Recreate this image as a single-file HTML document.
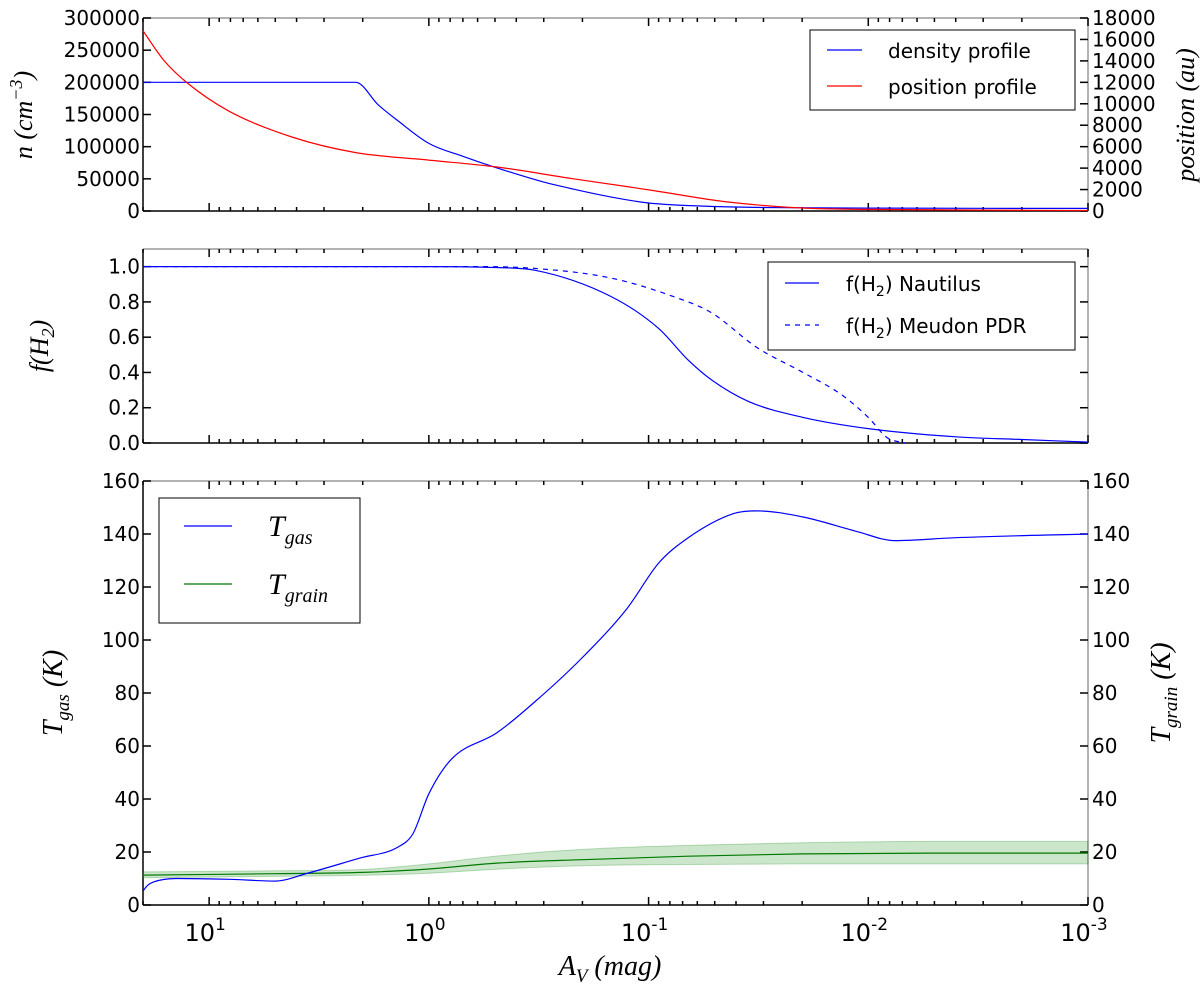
<!DOCTYPE html>
<html><head><meta charset="utf-8"><style>
body{margin:0;background:#fff}
svg{display:block}
text{font-family:"DejaVu Sans","Liberation Sans",sans-serif;fill:#000}
.it{font-family:"Liberation Serif","DejaVu Serif",serif;font-style:italic}
</style></head><body>
<svg id="chart" width="1200" height="990" xmlns="http://www.w3.org/2000/svg"></svg>
<script>
// ---- data ----
const densAv = [20, 2.15, 1.7, 1.38, 1.0, 0.7, 0.49, 0.3, 0.22, 0.15, 0.1, 0.05, 0.03, 0.01, 0.001];
const densVal = [200000, 200000, 165000, 140000, 105000, 85000, 67000, 45000, 34000, 22000, 12500, 7000, 5500, 4500, 4000];
const posAv = [20, 16, 12.5, 8.1, 4.2, 2.15, 1.0, 0.49, 0.22, 0.098, 0.044, 0.02, 0.01, 0.003, 0.001];
const posVal = [16800, 14000, 11900, 9300, 6900, 5450, 4750, 4100, 3000, 1950, 850, 280, 150, 80, 50];
const h2Av = [20, 1, 0.5, 0.33, 0.148, 0.09, 0.066, 0.052, 0.035, 0.0198, 0.0098, 0.004, 0.002, 0.001];
const h2Naut = [1.0, 1.0, 0.995, 0.98, 0.83, 0.65, 0.47, 0.36, 0.235, 0.145, 0.08, 0.035, 0.02, 0.005];
const h2MAv = [20, 0.6, 0.33, 0.148, 0.077, 0.052, 0.032, 0.0198, 0.0131, 0.01, 0.0082, 0.0068];
const h2Meud = [1.0, 1.0, 0.99, 0.935, 0.83, 0.74, 0.54, 0.4, 0.27, 0.145, 0.03, 0.0];
const tgasAv = [20, 19, 17.9, 14.1, 8.1, 5.0, 3.6, 2.06, 1.38, 1.18, 1.0, 0.79, 0.49, 0.33, 0.2, 0.125, 0.09, 0.066, 0.041, 0.032, 0.0198, 0.0113, 0.0076, 0.004, 0.001];
const tgasVal = [5.3, 7.5, 8.7, 10, 9.7, 9.0, 11.9, 17.7, 21.9, 27, 42, 55, 65, 76.6, 93.4, 112, 129, 138.6, 147.7, 148.7, 146.4, 141, 137.5, 138.6, 140];
const tgrAv = [20, 5, 2, 1, 0.49, 0.2, 0.066, 0.02, 0.005, 0.001];
const tgrVal = [11.3, 11.8, 12.3, 13.6, 15.8, 17.1, 18.4, 19.3, 19.6, 19.6];
const tgrLo = [10.3, 10.8, 11.2, 12, 13.5, 14.8, 15.3, 15.5, 15.5, 15.5];
const tgrHi = [12.5, 12.9, 13.4, 15.5, 18.5, 21, 22.5, 23.5, 24, 24];
const nTicks = [0, 50000, 100000, 150000, 200000, 250000, 300000];
const posTicks = [0, 2000, 4000, 6000, 8000, 10000, 12000, 14000, 16000, 18000];
const fTicks = [0.0, 0.2, 0.4, 0.6, 0.8, 1.0];
const tTicks = [0, 20, 40, 60, 80, 100, 120, 140, 160];
const xDecades = [1, 0, -1, -2, -3];

const svg = document.getElementById('chart');
const NS = 'http://www.w3.org/2000/svg';
function mk(tag, attrs, parent){const e=document.createElementNS(NS,tag);for(const k in attrs)e.setAttribute(k,attrs[k]);(parent||svg).appendChild(e);return e;}
const X0 = 143, X1 = 1088;
function xs(v){return X1 - (Math.log10(v) + 3) / (Math.log10(20) + 3) * (X1 - X0);}
function ys(top, bot, max){return v => bot - v / max * (bot - top);}
// monotone cubic path through points (x increasing)
function monoPath(px, py, start){
  const n = px.length, d = [], m = [];
  for (let i=0;i<n-1;i++) d.push((py[i+1]-py[i])/(px[i+1]-px[i]));
  m[0]=d[0]; m[n-1]=d[n-2];
  for (let i=1;i<n-1;i++) m[i] = (d[i-1]*d[i]<=0)?0:(d[i-1]+d[i])/2;
  for (let i=0;i<n-1;i++){
    if (d[i]===0){m[i]=0;m[i+1]=0;continue;}
    const a=m[i]/d[i], b=m[i+1]/d[i], s=a*a+b*b;
    if (s>9){const t=3/Math.sqrt(s);m[i]=t*a*d[i];m[i+1]=t*b*d[i];}
  }
  let s = (start||'M')+px[0].toFixed(1)+','+py[0].toFixed(1);
  for (let i=0;i<n-1;i++){
    const h=(px[i+1]-px[i])/3;
    s+=' C'+(px[i]+h).toFixed(1)+','+(py[i]+m[i]*h).toFixed(1)+' '+(px[i+1]-h).toFixed(1)+','+(py[i+1]-m[i+1]*h).toFixed(1)+' '+px[i+1].toFixed(1)+','+py[i+1].toFixed(1);
  }
  return s;
}
function pathD(av, vals, y){return monoPath(av.map(xs), vals.map(y));}

function frame(name, top, bot){
  const g = mk('g', {});
  
  
  mk('line',{x1:X0,y1:top,x2:X1,y2:top,stroke:'#999','stroke-width':1.5},g);
  mk('line',{x1:X1,y1:top,x2:X1,y2:bot,stroke:'#999','stroke-width':1.5},g);
  mk('line',{x1:X0,y1:top,x2:X0,y2:bot,stroke:'#000','stroke-width':1.5},g);
  mk('line',{x1:X0,y1:bot,x2:X1,y2:bot,stroke:'#000','stroke-width':1.5},g);
  for (let d=-3; d<=1; d++){
    for (let m=1; m<=9; m++){
      const v = m*Math.pow(10,d); if (v>20) continue;
      const x = xs(v), L = m===1?8:4;
      mk('line',{x1:x,y1:bot,x2:x,y2:bot-L,stroke:'#000','stroke-width':1.5},g);
      mk('line',{x1:x,y1:top,x2:x,y2:top+L,stroke:'#000','stroke-width':1.5},g);
    }
  }
  return g;
}
function yAxis(g, ticks, y, labels, right, decimals){
  ticks.forEach(t=>{
    const yy = y(t);
    if (!right){
      mk('line',{x1:X0,y1:yy,x2:X0+8,y2:yy,stroke:'#000','stroke-width':1.5},g);
      if (labels){const tx=mk('text',{x:X0-3,y:yy+7,'font-size':20,'text-anchor':'end'},g);tx.textContent=decimals?t.toFixed(1):t;
        
        }
    } else {
      mk('line',{x1:X1,y1:yy,x2:X1-8,y2:yy,stroke:'#000','stroke-width':1.5},g);
      if (labels){const tx=mk('text',{x:X1+4,y:yy+7,'font-size':20,'text-anchor':'start'},g);tx.textContent=t;
      
      }
    }
  });
}
function line(name, d, color, dash){
  const p = mk('path',{d:d,fill:'none',stroke:color,'stroke-width':1.2});
  if (dash) p.setAttribute('stroke-dasharray', dash);
  
  
  return p;
}

// ---- top panel ----
const T0=18, T1=211;
const gTop = frame('density-panel', T0, T1);
const yN = ys(T0, T1, 300000), yP = ys(T0, T1, 18000);
yAxis(gTop, nTicks, yN, true, false, false);
yAxis(gTop, posTicks, yP, true, true, false);
line('density-line', pathD(densAv, densVal, yN), '#0000ff');
line('position-line', pathD(posAv, posVal, yP), '#ff0000');

// ---- middle panel ----
const M0=249, M1=443;
const gMid = frame('h2-panel', M0, M1);
const yF = ys(M0, M1, 1.1);
yAxis(gMid, fTicks, yF, true, false, true);
yAxis(gMid, fTicks, yF, false, true, true);
line('h2-nautilus-line', pathD(h2Av, h2Naut, yF), '#0000ff');
line('h2-meudon-line', pathD(h2MAv, h2Meud, yF), '#0000ff', '5,5');

// ---- bottom panel ----
const B0=481, B1=905;
const gBot = frame('temperature-panel', B0, B1);
const yT = ys(B0, B1, 160);
yAxis(gBot, tTicks, yT, true, false, false);
yAxis(gBot, tTicks, yT, true, true, false);
const bxs = tgrAv.map(xs);
let band = monoPath(bxs, tgrHi.map(yT));
band += ' ' + monoPath(bxs.slice().reverse(), tgrLo.map(yT).reverse(), 'L').replace(/^L/, 'L');
// reverse path x decreasing: monotone works on sign of dx; fine
const bandEl = mk('path',{d:band+'Z',fill:'rgba(0,128,0,0.2)',stroke:'rgba(0,128,0,0.25)'});


line('tgrain-line', pathD(tgrAv, tgrVal, yT), '#007a00');
line('tgas-line', pathD(tgasAv, tgasVal, yT), '#0000ff');

xDecades.forEach(d=>{
  const x = xs(Math.pow(10,d));
  const t = mk('text',{x:x-4,y:B1+36,'font-size':24,'text-anchor':'middle'});
  
  
  t.innerHTML = '10<tspan dy="-11" font-size="17">'+d+'</tspan>';
});
</script>
<svg width="1200" height="990" style="position:absolute;left:0;top:0" xmlns="http://www.w3.org/2000/svg">
  <g>
    <rect x="810" y="30" width="265" height="80" fill="#fff" stroke="#000" stroke-width="1"/>
    <line x1="827" y1="50" x2="862" y2="50" stroke="#0000ff" stroke-width="1.2"/>
    <text x="888" y="58" font-size="20">density profile</text>
    <line x1="827" y1="86" x2="862" y2="86" stroke="#ff0000" stroke-width="1.2"/>
    <text x="888" y="94" font-size="20">position profile</text>
  </g>
  <g>
    <rect x="768" y="262" width="307" height="88" fill="#fff" stroke="#000" stroke-width="1"/>
    <line x1="785" y1="283" x2="819" y2="283" stroke="#0000ff" stroke-width="1.2"/>
    <text x="846" y="291" font-size="20">f(H<tspan dy="5" font-size="14">2</tspan><tspan dy="-5">) Nautilus</tspan></text>
    <line x1="785" y1="325" x2="819" y2="325" stroke="#0000ff" stroke-width="1.2" stroke-dasharray="5,5"/>
    <text x="846" y="333" font-size="20">f(H<tspan dy="5" font-size="14">2</tspan><tspan dy="-5">) Meudon PDR</tspan></text>
  </g>
  <g>
    <rect x="159" y="498" width="201" height="125" fill="#fff" stroke="#000" stroke-width="1"/>
    <line x1="184" y1="526" x2="232" y2="526" stroke="#0000ff" stroke-width="1.2"/>
    <text x="268" y="536" font-size="30" class="it">T<tspan dy="8" font-size="20">gas</tspan></text>
    <line x1="184" y1="584" x2="232" y2="584" stroke="#007a00" stroke-width="1.2"/>
    <text x="268" y="594" font-size="30" class="it">T<tspan dy="8" font-size="20">grain</tspan></text>
  </g>
  <text class="it" font-size="26" transform="translate(32,115) rotate(-90)" text-anchor="middle">n (cm<tspan dy="-10" font-size="18">−3</tspan><tspan dy="10">)</tspan></text>
  <text class="it" font-size="26" transform="translate(1194,115) rotate(-90)" text-anchor="middle">position (au)</text>
  <text class="it" font-size="26" transform="translate(48,346) rotate(-90)" text-anchor="middle">f(H<tspan dy="6" font-size="18">2</tspan><tspan dy="-6">)</tspan></text>
  <text class="it" font-size="28" transform="translate(62,693) rotate(-90)" text-anchor="middle">T<tspan dy="7" font-size="19">gas</tspan><tspan dy="-7"> (K)</tspan></text>
  <text class="it" font-size="28" transform="translate(1170,693) rotate(-90)" text-anchor="middle">T<tspan dy="7" font-size="19">grain</tspan><tspan dy="-7"> (K)</tspan></text>
  <text class="it" font-size="28" x="610" y="975" text-anchor="middle">A<tspan dy="7" font-size="19">V</tspan><tspan dy="-7"> (mag)</tspan></text>
</svg>
</body></html>
